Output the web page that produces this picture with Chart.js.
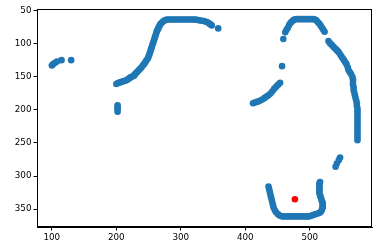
<!DOCTYPE html>
<html>
<head>
<meta charset="utf-8">
<script src="https://cdn.jsdelivr.net/npm/chart.js@4/dist/chart.umd.min.js"></script>
<style>
html,body{margin:0;padding:0;background:#fff;}
canvas{display:block;}
</style>
</head>
<body>
<canvas id="c" width="378" height="252"></canvas>
<script>
// ---- data ----
const xTicks = [100, 200, 300, 400, 500];
const yTicks = [50, 100, 150, 200, 250, 300, 350];

const leftCluster = [[100,133],[102,131],[105,129],[108,127],[115,125],[130,125]];
const lowerPair = [[202,193],[202,196],[202,199],[202,203]];
const leftCurve = [
  [200,161],[202,160],[204,159],[206,158.5],[208,158],[210,157],[212,156.5],[214,156],[216,155],[218,154],
  [220,152.5],[222,151],[224,150],[226,149],[228,148],[229,146],[231,144],[233,142],[235,140],[237,138],
  [239,136],[241,133],[243,131],[245,128],[247,125],[249,122],[250,119],[251,117],[252,114],[253,111],
  [254,108],[255,105],[256,102],[257,99],[258,96],[259,93],[260,90],[261,87],[262,84],[263,81],
  [264,79],[265,77],[266,75],[267,73],[268,71],[270,69],[272,67],[274,65.5],[276,64.5],[278,64],
  [280,63.5],[283,63.5],[286,63.5],[289,63.5],[292,63.5],[295,63.5],[298,63.5],[301,63.5],[304,63.5],
  [307,63.5],[310,63.5],[313,63.5],[316,63.5],[319,63.5],[322,63.5],[324,64],[327,64.5],[330,65],
  [333,65.5],[336,66],[339,67],[342,68],[344,69.5],[346,71],[348,72.5],[358,77]
];
const innerArc = [
  [412,190],[415,189],[418,188],[421,187],[424,185.5],[427,184],[430,182],[433,180],[436,178],
  [439,175.5],[442,172],[445,168],[448,165],[451,162],[454,159],[457,134]
];
const topArc = [
  [459,93],[462,83],[464,79],[466,76],[468,72],[470,69],[472,67],[474,65],[476,63.5],[479,63],
  [482,63],[485,63],[488,63],[491,63],[494,63],[497,63],[500,63],[503,63],[506,63],[509,64],
  [511,66],[513,68],[515,70],[517,73],[519,76],[521,79],[523,82]
];
const rightSide = [
  [529,96],[531,99],[533,101],[535,103],[537,105],[539,107],[541,109],[543,111],[545,113],[547,116],
  [549,119],[551,122],[553,125],[555,128],[557,131],[559,136],[560,140],[562,143],[564,146],[566,150],
  [567,154],[567,158],[567,162],[568,166],[568,170],[569,174],[570,178],[571,182],[572,186],[573,190],
  [573,194],[574,198],[574,202],[574,206],[574,210],[574,214],[574,218],[574,222],[574,226],[574,230],
  [574,234],[574,238],[574,242],[574,246]
];
const smallPair = [[540,286],[542,281],[545,276],[547,272]];
const bottomU = [
  [436,316],[437,320],[438,324],[439,328],[440,332],[441,336],[442,340],[443,344],[444,348],[446,352],
  [448,355],[451,358],[454,360],[457,361],[460,361],[463,361],[466,361],[469,361],[472,361],[475,361],
  [478,361],[481,361],[484,361],[487,361],[490,361],[493,361],[496,361],[499,361],[502,360],[505,359],
  [508,358],[511,357],[514,356],[516,355],[518,353],[519,350],[520,347],[520,344],[520,341],[519,338],
  [518,335],[517,332],[516,329],[515,326],[515,323],[515,320],[515,317],[515,314],[515,311],[516,309]
];
const redPoint = [[477,335]];

const toPts = arr => arr.map(p => ({x: p[0], y: p[1]}));
const bluePts = [].concat(leftCluster, lowerPair, leftCurve, innerArc, topArc, rightSide, smallPair, bottomU);

const frame = {
  id: 'frame',
  afterDraw(chart) {
    const a = chart.chartArea, ctx = chart.ctx;
    ctx.save();
    ctx.strokeStyle = '#000';
    ctx.lineWidth = 1;
    ctx.strokeRect(Math.round(a.left) + 0.5, Math.round(a.top) + 0.5,
                   Math.round(a.right - a.left) - 1, Math.round(a.bottom - a.top) - 1);
    ctx.restore();
  }
};

const tickFont = {family: 'DejaVu Sans', size: 8.75};

new Chart(document.getElementById('c'), {
  type: 'scatter',
  data: {
    datasets: [
      {data: toPts(redPoint), backgroundColor: '#ff0000', borderColor: '#ff0000', pointRadius: 3.3, borderWidth: 0},
      {data: toPts(bluePts), backgroundColor: '#1f77b4', borderColor: '#1f77b4', pointRadius: 3.3, borderWidth: 0}
    ]
  },
  options: {
    responsive: false,
    animation: false,
    devicePixelRatio: 1,
    layout: {padding: {left: 0, top: 9, right: 6, bottom: 0}},
    plugins: {legend: {display: false}, tooltip: {enabled: false}},
    scales: {
      x: {
        type: 'linear', min: 77, max: 596.5,
        afterBuildTicks: s => { s.ticks = xTicks.map(v => ({value: v})); },
        afterFit: s => { s.height = 25; },
        grid: {display: true, drawOnChartArea: false, drawTicks: true, tickLength: 3.5, color: '#000'},
        border: {display: true, color: '#000'},
        ticks: {font: tickFont, color: '#000', padding: 2, maxRotation: 0, autoSkip: false}
      },
      y: {
        type: 'linear', reverse: true, min: 47.7, max: 377,
        afterBuildTicks: s => { s.ticks = yTicks.map(v => ({value: v})); },
        afterFit: s => { s.width = 37; },
        grid: {display: true, drawOnChartArea: false, drawTicks: true, tickLength: 3.5, color: '#000'},
        border: {display: true, color: '#000'},
        ticks: {font: tickFont, color: '#000', padding: 2, autoSkip: false}
      }
    }
  },
  plugins: [frame]
});
</script>
</body>
</html>
